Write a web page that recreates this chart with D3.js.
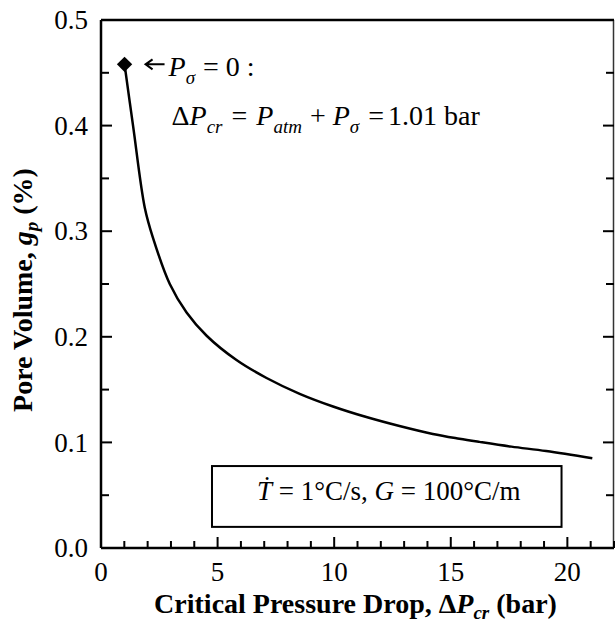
<!DOCTYPE html>
<html>
<head>
<meta charset="utf-8">
<script src="https://cdn.jsdelivr.net/npm/d3@7"></script>
</head>
<body style="margin:0">
<svg id="chart" width="615" height="628"></svg>
<script>
// curve: critical pressure drop (bar) vs pore volume (%)
var pressureDrop = [1.01, 1.38, 1.88, 2.24, 2.95, 3.67, 4.53, 5.81, 7.10, 8.52, 9.95, 11.38, 12.8, 14.23, 15.37, 16.23, 17.6, 19.09, 21.07]
var poreVolume   = [0.458, 0.399, 0.322, 0.293, 0.250, 0.223, 0.201, 0.178, 0.161, 0.146, 0.134, 0.124, 0.1155, 0.108, 0.1035, 0.1005, 0.096, 0.0918, 0.085]

// the marked point P_sigma = 0
var markerPoint = [1.01, 0.458]

// ticks
var xMajorTicks = [0, 5, 10, 15, 20]
var xMinorTicks = d3.range(0, 23, 1)
var yMajorTicks = [0.0, 0.1, 0.2, 0.3, 0.4, 0.5]
var yMinorTicks = d3.range(0, 0.501, 0.05)

const FONT = '"Liberation Serif", "Times New Roman", serif'

//plot box
const margin = {top: 20, right: 1, bottom: 80, left: 101}
const svg = d3.select('#chart')
const width = +svg.attr('width')
const height = +svg.attr('height')

const x = d3.scaleLinear().domain([0, 22]).range([margin.left, width - margin.right])
const y = d3.scaleLinear().domain([0, 0.5]).range([height - margin.bottom, margin.top])
const [x0, x1] = x.range()
const [yb, yt0] = y.range()

const isMajorX = d => d % 5 === 0
const isMajorY = d => Math.abs(Math.round(d * 10) - d * 10) < 1e-6

//frame: thick left/bottom/top, thin right
svg.append('line').attr('x1', x0).attr('x2', x1).attr('y1', yb).attr('y2', yb).attr('stroke', 'black').attr('stroke-width', 2.5)
svg.append('line').attr('x1', x0).attr('x2', x0).attr('y1', yt0).attr('y2', yb).attr('stroke', 'black').attr('stroke-width', 2.5)
svg.append('line').attr('x1', x0).attr('x2', x1).attr('y1', yt0).attr('y2', yt0).attr('stroke', 'black').attr('stroke-width', 2.5)
svg.append('line').attr('x1', x1 - 0.5).attr('x2', x1 - 0.5).attr('y1', yt0).attr('y2', yb).attr('stroke', '#333').attr('stroke-width', 1.5)

//bottom ticks (pointing up)
svg.append('g').selectAll('line').data(xMinorTicks).join('line')
  .attr('x1', d => x(d)).attr('x2', d => x(d))
  .attr('y1', yb).attr('y2', d => yb - (isMajorX(d) ? 11 : 7))
  .attr('stroke', 'black').attr('stroke-width', 2)

//left ticks
svg.append('g').selectAll('line').data(yMinorTicks).join('line')
  .attr('x1', x0).attr('x2', d => x0 + (isMajorY(d) ? 11 : 8))
  .attr('y1', d => y(d)).attr('y2', d => y(d))
  .attr('stroke', 'black').attr('stroke-width', 2)

//right ticks
svg.append('g').selectAll('line').data(yMinorTicks).join('line')
  .attr('x1', x1).attr('x2', d => x1 - (isMajorY(d) ? 11 : 8))
  .attr('y1', d => y(d)).attr('y2', d => y(d))
  .attr('stroke', 'black').attr('stroke-width', 2)

//tick labels
svg.append('g').selectAll('text').data(xMajorTicks).join('text')
  .attr('x', d => x(d)).attr('y', yb + 33)
  .attr('text-anchor', 'middle').attr('font-family', FONT).attr('font-size', 27)
  .text(d3.format('d'))
svg.append('g').selectAll('text').data(yMajorTicks).join('text')
  .attr('x', x0 - 13).attr('y', d => y(d)).attr('dy', '0.34em')
  .attr('text-anchor', 'end').attr('font-family', FONT).attr('font-size', 27)
  .text(d3.format('.1f'))

//the curve
svg.append('path')
  .datum(d3.zip(pressureDrop, poreVolume))
  .attr('fill', 'none')
  .attr('stroke', 'black')
  .attr('stroke-width', 2.5)
  .attr('d', d3.line().x(d => x(d[0])).y(d => y(d[1])).curve(d3.curveCatmullRom.alpha(0.5)))

//diamond marker
const mx = x(markerPoint[0]), my = y(markerPoint[1])
svg.append('path')
  .attr('transform', `translate(${mx},${my})`)
  .attr('d', d3.symbol().type(d3.symbolDiamond2).size(150))
  .attr('fill', 'black')

//small arrow pointing at the marker
svg.append('path')
  .attr('d', `M${mx + 40},${my} L${mx + 22},${my} M${mx + 28},${my - 5} L${mx + 21},${my} L${mx + 28},${my + 5}`)
  .attr('fill', 'none').attr('stroke', 'black').attr('stroke-width', 2)

//annotation text
const ann1 = svg.append('text').attr('x', mx + 44).attr('y', my + 12)
  .attr('font-family', FONT).attr('font-size', 28)
ann1.append('tspan').attr('font-style', 'italic').text('P')
ann1.append('tspan').attr('dy', 8).attr('font-style', 'italic').attr('font-size', 19).text('\u03c3')
ann1.append('tspan').attr('dy', -8).attr('dx', 8).text('= 0 :')

const ann2 = svg.append('text').attr('x', mx + 47).attr('y', my + 61)
  .attr('font-family', FONT).attr('font-size', 28)
ann2.append('tspan').text('\u0394')
ann2.append('tspan').attr('font-style', 'italic').text('P')
ann2.append('tspan').attr('dy', 8).attr('font-style', 'italic').attr('font-size', 19).text('cr')
ann2.append('tspan').attr('dy', -8).attr('dx', 9).text('=')
ann2.append('tspan').attr('dx', 9).attr('font-style', 'italic').text('P')
ann2.append('tspan').attr('dy', 8).attr('font-style', 'italic').attr('font-size', 19).text('atm')
ann2.append('tspan').attr('dy', -8).attr('dx', 8).text('+')
ann2.append('tspan').attr('dx', 7).attr('font-style', 'italic').text('P')
ann2.append('tspan').attr('dy', 8).attr('font-style', 'italic').attr('font-size', 19).text('\u03c3')
ann2.append('tspan').attr('dy', -8).attr('dx', 9).text('=')
ann2.append('tspan').attr('dx', 4).text('1.01 bar')

//box with heating conditions
const boxLeft = x(4.76), boxRight = x(19.75)
svg.append('rect')
  .attr('x', boxLeft).attr('y', y(0.0776))
  .attr('width', boxRight - boxLeft).attr('height', y(0.02) - y(0.0776))
  .attr('fill', 'white').attr('stroke', 'black').attr('stroke-width', 2)
const boxText = svg.append('text').attr('x', (boxLeft + boxRight) / 2 + 2).attr('y', y(0.0455))
  .attr('text-anchor', 'middle').attr('font-family', FONT).attr('font-size', 27)
boxText.append('tspan').attr('font-style', 'italic').text('\u1E6A')
boxText.append('tspan').text(' = 1\u00b0C/s, ')
boxText.append('tspan').attr('font-style', 'italic').text('G')
boxText.append('tspan').text(' = 100\u00b0C/m')

//axis titles
const xt = svg.append('text')
  .attr('x', (x0 + x1) / 2 - 2).attr('y', 613)
  .attr('text-anchor', 'middle').attr('font-family', FONT).attr('font-size', 28).attr('font-weight', 'bold')
xt.append('tspan').text('Critical Pressure Drop, \u0394')
xt.append('tspan').attr('font-style', 'italic').text('P')
xt.append('tspan').attr('dy', 6).attr('font-style', 'italic').attr('font-size', 19).text('cr')
xt.append('tspan').attr('dy', -6).text(' (bar)')

const ytl = svg.append('text')
  .attr('transform', `translate(32,${(yb + yt0) / 2 + 6}) rotate(-90)`)
  .attr('text-anchor', 'middle').attr('font-family', FONT).attr('font-size', 28).attr('font-weight', 'bold')
ytl.append('tspan').text('Pore Volume, ')
ytl.append('tspan').attr('font-style', 'italic').text('g')
ytl.append('tspan').attr('dy', 6).attr('font-style', 'italic').attr('font-size', 19).text('p')
ytl.append('tspan').attr('dy', -6).text(' (%)')
</script>
</body>
</html>
